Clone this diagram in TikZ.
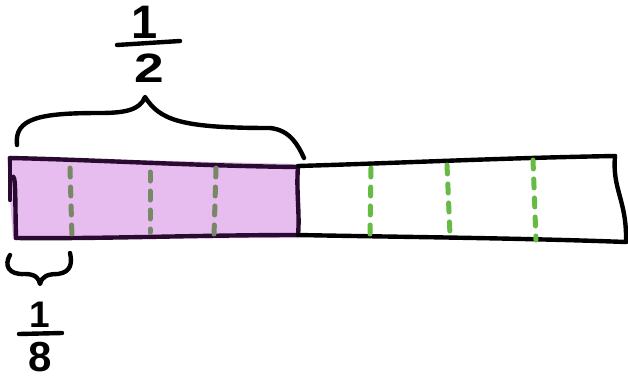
\documentclass[tikz,border=0pt]{standalone}
\usepackage{fontspec}
\setmainfont{Liberation Sans}
\definecolor{purplefill}{HTML}{E6BDEE}
\definecolor{purpleline}{HTML}{2A0A30}
\definecolor{graygreen}{HTML}{778866}
\definecolor{brightgreen}{HTML}{66BB44}
\tikzset{
  ink/.style={line width=4.4pt, line cap=round, line join=round, black},
  pink/.style={line width=4.4pt, line cap=round, line join=round, purpleline},
  divider/.style={line width=5pt, line cap=round, dash pattern=on 9pt off 10pt},
  digit/.style={inner sep=0pt, font=\fontsize{#1}{#1}\selectfont\bfseries},
  digit/.default=40
}
\begin{document}
\begin{tikzpicture}[x=1pt,y=-1pt]
\useasboundingbox (0,0) rectangle (628,380);
% shaded half
\fill[purplefill] (7,157) -- (299,164) -- (300,238) -- (13,239) -- cycle;
% outline of shaded half
\draw[pink] (10,158) .. controls (100,160) and (200,166) .. (298,167);
\draw[pink] (298,167) .. controls (296,190) and (300,215) .. (298,235);
\draw[pink] (16,238) .. controls (100,239) and (200,235) .. (298,235);
\draw[pink] (10,158) -- (10,200);
\draw[pink] (12,178) .. controls (16,170) and (15,200) .. (16,238);
% white half
\draw[ink] (298,166) .. controls (400,163) and (500,158) .. (615,156);
\draw[ink] (615,156) .. controls (612,190) and (627,200) .. (626,242);
\draw[ink] (298,235) .. controls (400,237) and (520,238) .. (626,242);
% dividers
\draw[divider, graygreen] (70,168) -- (72,238);
\draw[divider, graygreen] (150,172) -- (150,232);
\draw[divider, graygreen] (216,168) -- (214,236);
\draw[divider, brightgreen] (371,168) -- (370,235);
\draw[divider, brightgreen] (447,165) -- (450,235);
\draw[divider, brightgreen] (533,160) -- (536,240);
% top brace
\coordinate (tl) at (17,145);
\coordinate (tt) at (145,97);
\coordinate (tr) at (304,158);
\draw[ink] (tl) .. controls (14,118) and (40,113) .. (100,113)
  .. controls (125,113) and (140,110) .. (tt)
  .. controls (160,120) and (180,128) .. (270,128)
  .. controls (290,130) and (298,145) .. (tr);
% 1/2
\node[digit=47] (hnum) at (145,22) {1};
\node[digit=41, xscale=1.3] (hden) at (149,68) {2};
\coordinate (hbl) at (117,45);
\coordinate (hbr) at (180,41);
\draw[ink] (hbl) -- (hbr);
% bottom brace
\coordinate (bl) at (10,255);
\coordinate (bt) at (40,284);
\coordinate (br) at (70,253);
\draw[ink] (bl) .. controls (4,265) and (8,275) .. (25,274)
  .. controls (35,274) and (39,278) .. (bt)
  .. controls (42,276) and (48,274) .. (58,274)
  .. controls (72,272) and (72,262) .. (br);
% 1/8
\node[digit=37] (enum) at (40,315) {1};
\node[digit=42] (eden) at (40,357) {8};
\coordinate (ebl) at (19,334);
\coordinate (ebr) at (62,333);
\draw[ink] (ebl) -- (ebr);
\end{tikzpicture}
\end{document}
